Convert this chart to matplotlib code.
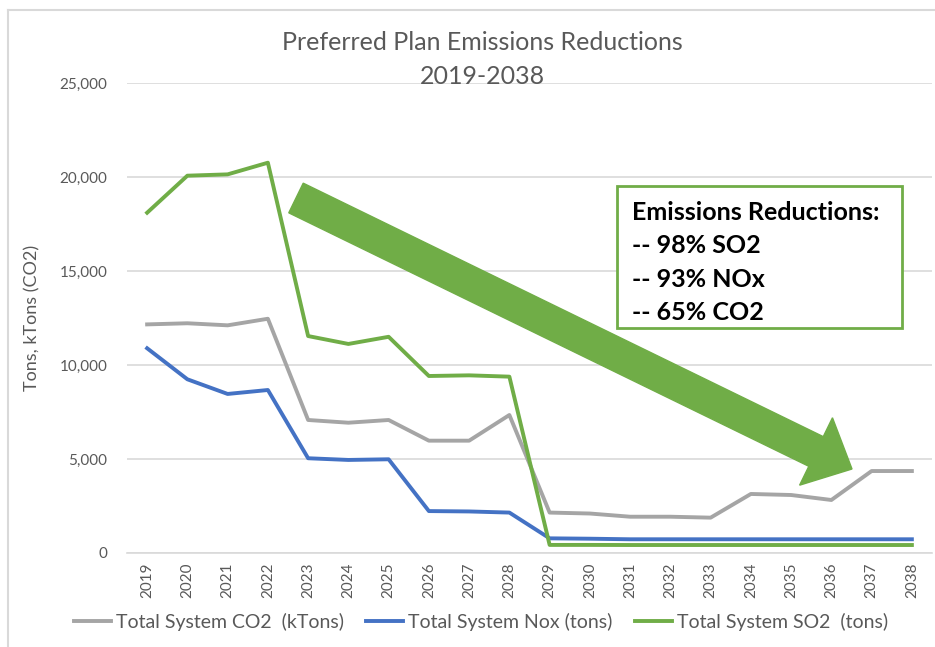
import numpy as np
import matplotlib
matplotlib.use('Agg')
import matplotlib.pyplot as plt
from matplotlib.patches import FancyArrow, Rectangle
from matplotlib.lines import Line2D
from matplotlib.transforms import IdentityTransform

plt.rcParams['font.family'] = ['Lato', 'DejaVu Sans']

years = [str(y) for y in range(2019, 2039)]
co2 = [12160, 12220, 12110, 12460, 7075, 6930, 7075, 5975, 5975, 7340,
       2150, 2100, 1930, 1930, 1880, 3140, 3085, 2820, 4360, 4360]
nox = [10890, 9240, 8460, 8670, 5040, 4950, 4985, 2230, 2210, 2150,
       780, 760, 730, 730, 730, 730, 730, 730, 730, 730]
so2 = [18100, 20070, 20140, 20760, 11540, 11120, 11500, 9415, 9450, 9380,
       430, 430, 425, 425, 425, 425, 425, 425, 425, 425]
yticks = [0, 5000, 10000, 15000, 20000, 25000]
box_lines = ['Emissions Reductions:', '-- 98% SO2', '-- 93% NOx', '-- 65% CO2']

GRAY = '#A5A5A5'
BLUE = '#4472C4'
GREEN = '#70AD47'
TXT = '#595959'
W, H = 935, 647

fig = plt.figure(figsize=(W / 100, H / 100), dpi=100)
ax = fig.add_axes([127 / W, (H - 553) / H, 805 / W, 470 / H])

x = np.arange(len(years))
ax.plot(x, co2, color=GRAY, lw=2.8, label='Total System CO2  (kTons)', solid_joinstyle='round')
ax.plot(x, nox, color=BLUE, lw=2.8, label='Total System Nox (tons)', solid_joinstyle='round')
ax.plot(x, so2, color=GREEN, lw=2.8, label='Total System SO2  (tons)', solid_joinstyle='round')

ax.set_xlim(-0.5, len(years) - 0.5)
ax.set_ylim(0, 25000)
ax.set_yticks(yticks)
ax.set_yticklabels([f'{v:,}' for v in yticks])
ax.set_xticks(x)
ax.set_xticklabels(years, rotation=90)
ax.tick_params(axis='y', length=0, pad=14, labelsize=11, labelcolor=TXT)
ax.tick_params(axis='x', length=0, pad=7, labelsize=11, labelcolor=TXT)
ax.grid(axis='y', color='#D9D9D9', lw=1.2)
ax.set_axisbelow(True)
for s in ['top', 'right', 'left']:
    ax.spines[s].set_visible(False)
ax.spines['bottom'].set_color('#D9D9D9')
ax.spines['bottom'].set_linewidth(1.2)

ax.set_ylabel('Tons, kTons (CO2)', fontsize=13, color=TXT)
ax.yaxis.set_label_coords((40 - 127) / 805, (553 - 318) / 470)

fig.text(482 / W, 1 - 43 / H, 'Preferred Plan Emissions Reductions', ha='center', va='center',
         fontsize=18, color=TXT)
fig.text(482 / W, 1 - 77 / H, '2019-2038', ha='center', va='center', fontsize=18, color=TXT)

# outer chart border (top and left visible)
fig.add_artist(Line2D([8 / W, 8 / W], [0, 1 - 10 / H], color='#D9D9D9', lw=1.5))
fig.add_artist(Line2D([8 / W, 1], [1 - 10 / H, 1 - 10 / H], color='#D9D9D9', lw=1.5))

# big green arrow (pixel coords)
arrow = FancyArrow(296, H - 198, 556, -271, width=33, head_width=75, head_length=40,
                   length_includes_head=True, color=GREEN, transform=IdentityTransform())
fig.add_artist(arrow)

# text box
fig.add_artist(Rectangle((617 / W, 1 - 328 / H), 285 / W, 142 / H, transform=fig.transFigure,
                         facecolor='white', edgecolor=GREEN, lw=2))
for t, yy in zip(box_lines, [213, 246, 279, 312]):
    fig.text(632 / W, 1 - yy / H, t, ha='left', va='center', fontsize=18,
             fontweight='bold', color='black')

ax.legend(loc='center', bbox_to_anchor=(481 / W, 25 / H), bbox_transform=fig.transFigure,
          ncol=3, frameon=False, fontsize=14, handlelength=1.9, handletextpad=0.25,
          columnspacing=1.15, labelcolor=TXT)

fig.savefig('out.png', dpi=100)
